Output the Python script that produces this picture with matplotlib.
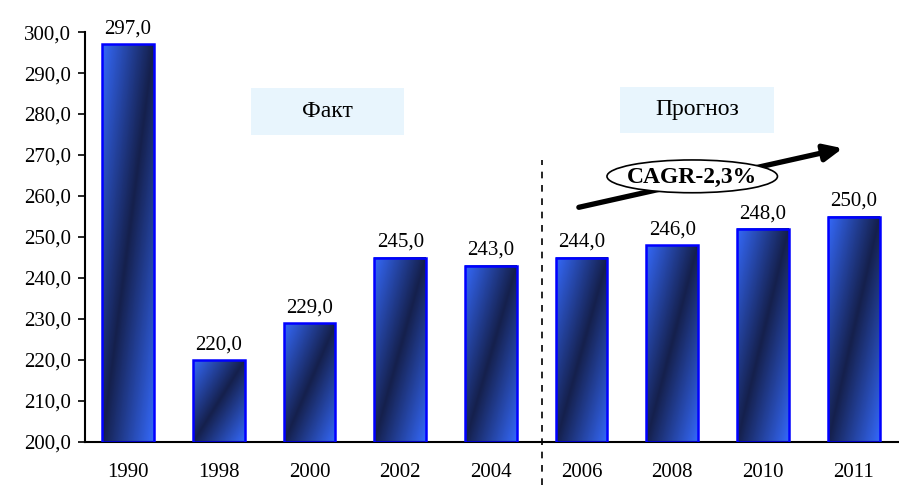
import numpy as np
import matplotlib
matplotlib.use("Agg")
import matplotlib.pyplot as plt
from matplotlib.colors import LinearSegmentedColormap
from matplotlib.patches import Ellipse, Rectangle

years = ["1990", "1998", "2000", "2002", "2004", "2006", "2008", "2010", "2011"]
heights = [297.0, 220.0, 229.0, 245.0, 243.0, 245.0, 248.0, 252.0, 255.0]
labels = ["297,0", "220,0", "229,0", "245,0", "243,0", "244,0", "246,0", "248,0", "250,0"]
yticks = [200, 210, 220, 230, 240, 250, 260, 270, 280, 290, 300]

plt.rcParams['font.family'] = ['Liberation Serif', 'DejaVu Serif']

fig = plt.figure(figsize=(8.99, 4.88), dpi=100)
ax = fig.add_axes([0.0946, 0.0943, 0.9054, 0.840])

x = np.arange(len(years))
bars = ax.bar(x, [h - 200 for h in heights], bottom=200, width=0.57,
              facecolor='none', edgecolor='#0000FF', linewidth=1.8, zorder=3)

# diagonal gradient: light blue at corners, dark navy band across the diagonal
cmap = LinearSegmentedColormap.from_list("barg", ["#3468F8", "#15204C", "#3468F8"])
u, v = np.meshgrid(np.linspace(0, 1, 60), np.linspace(1, 0, 120))
grad = (u + (1 - v)) / 2
for b in bars:
    x0, y0 = b.get_x(), b.get_y()
    ax.imshow(grad, extent=[x0, x0 + b.get_width(), y0, y0 + b.get_height()],
              cmap=cmap, vmin=0, vmax=1, aspect='auto', zorder=2, interpolation='bilinear')

for xi, h, lab in zip(x, heights, labels):
    ax.text(xi, h + 1.4, lab, ha='center', va='bottom', fontsize=15)

ax.set_xlim(-0.475, 8.5)
ax.set_ylim(200, 300)
ax.set_yticks(yticks)
ax.set_yticklabels(["%d,0" % t for t in yticks], fontsize=15)
ax.set_xticks(x)
ax.set_xticklabels(years, fontsize=15)
ax.tick_params(axis='x', length=0, pad=15)
ax.tick_params(axis='y', length=5, width=1.2, direction='out', pad=5)
for s in ['top', 'right']:
    ax.spines[s].set_visible(False)
ax.spines['left'].set_linewidth(1.5)
ax.spines['bottom'].set_linewidth(1.5)

# fact / forecast separator
ax.plot([4.56, 4.56], [189.5, 268.8], color='black', linestyle=(0, (4, 4)),
        linewidth=1.2, clip_on=False, zorder=4)

# section headers
ax.add_patch(Rectangle((1.35, 274.9), 1.69, 11.4, facecolor='#E8F5FD', edgecolor='none', zorder=1))
ax.text(2.195, 280.6, "Факт", ha='center', va='center', fontsize=17)
ax.add_patch(Rectangle((5.42, 275.4), 1.70, 11.2, facecolor='#E8F5FD', edgecolor='none', zorder=1))
ax.text(6.27, 281.0, "Прогноз", ha='center', va='center', fontsize=17)

# growth arrow with CAGR ellipse
ax.annotate("", xy=(7.91, 271.8), xytext=(4.94, 257.1),
            arrowprops=dict(arrowstyle='-|>,head_length=1.1,head_width=0.5',
                            color='black', linewidth=3.8), zorder=5)
ax.add_patch(Ellipse((6.22, 264.8), 1.88, 8.0, facecolor='white', edgecolor='black',
                     linewidth=1.2, zorder=6))
ax.text(6.22, 264.6, "CAGR-2,3%", ha='center', va='center', fontsize=17,
        fontweight='bold', zorder=7)

fig.savefig("out.png", dpi=100)
